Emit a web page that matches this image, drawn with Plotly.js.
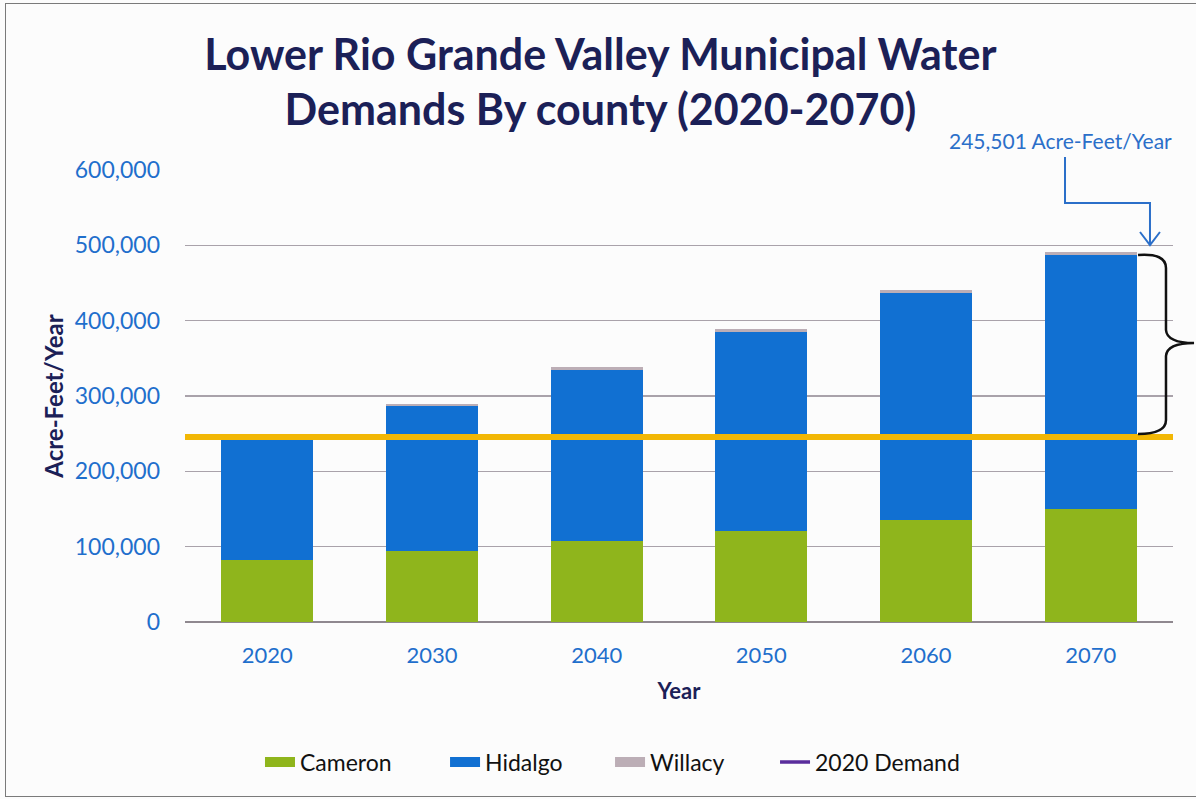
<!DOCTYPE html>
<html>
<head>
<meta charset="utf-8">
<script src="https://cdn.plot.ly/plotly-3.0.1.min.js"></script>
<style>
html,body{margin:0;padding:0;background:#fcfcfc;}
#wrap{position:absolute;left:0;top:0;width:1196px;height:799px;overflow:hidden;}
#frame{position:absolute;left:5px;top:3px;width:1300px;height:792px;border:1.5px solid #7a7a7a;pointer-events:none;}
#chart{position:absolute;left:0;top:0;width:1196px;height:799px;}
</style>
</head>
<body>
<div id="wrap"><div id="chart"></div><div id="frame"></div></div>
<script>
// ---- data ----
const years = ['2020', '2030', '2040', '2050', '2060', '2070'];
const cameron = [82000, 94000, 107000, 120500, 135500, 150500];
const hidalgo = [161000, 193000, 228000, 265000, 301000, 336500];
const willacy = [2500, 3000, 3200, 3500, 3800, 4000];
const demand2020 = [245500, 245500];
const increaseLabel = '245,501 Acre-Feet/Year';
const yTicks = [0, 100000, 200000, 300000, 400000, 500000, 600000];

// ---- layout geometry (pixels) ----
const W = 1196, H = 799;
const L = 185, R = 1173, T = 170, B = 622;
const pw = R - L, ph = B - T;
function px(x) { return ((x - L) / pw).toFixed(4); }
function py(y) { return ((B - y) / ph).toFixed(4); }

const blueTxt = '#1f6fcc';
const navy = '#1b2057';
const font = 'Lato, "Open Sans", sans-serif';
const colCam = '#8fb51c', colHid = '#1170d2', colWil = '#bcaeb6';

const traces = [
  {type: 'bar', name: 'Cameron', x: years, y: cameron, showlegend: false,
   marker: {color: colCam}, hoverinfo: 'y+name'},
  {type: 'bar', name: 'Hidalgo', x: years, y: hidalgo, showlegend: false,
   marker: {color: colHid}, hoverinfo: 'y+name'},
  {type: 'bar', name: 'Willacy', x: years, y: willacy, showlegend: false,
   marker: {color: colWil}, hoverinfo: 'y+name'},
  {type: 'scatter', mode: 'lines', name: '2020 Demand', x: [0, 1], y: demand2020,
   xaxis: 'x2', line: {color: '#f2b705', width: 6}, showlegend: false, hoverinfo: 'skip'},
  // legend entries (wide swatches as in the original)
  {type: 'scatter', mode: 'lines', name: 'Cameron', x: [null], y: [null], legend: 'legend', line: {color: colCam, width: 14}},
  {type: 'scatter', mode: 'lines', name: 'Hidalgo', x: [null], y: [null], legend: 'legend2', line: {color: colHid, width: 14}},
  {type: 'scatter', mode: 'lines', name: 'Willacy', x: [null], y: [null], legend: 'legend3', line: {color: colWil, width: 14}},
  {type: 'scatter', mode: 'lines', name: '2020 Demand', x: [null], y: [null], legend: 'legend4', line: {color: '#5a2d9c', width: 3.5}}
];

// callout arrow and brace (decorations)
const arrowPath = `M ${px(1065)},${py(157)} L ${px(1065)},${py(203)} L ${px(1150)},${py(203)} L ${px(1150)},${py(244)}`;
const headPath = `M ${px(1140)},${py(232)} L ${px(1150)},${py(245)} L ${px(1160)},${py(232)}`;
const bracePath = `M ${px(1138)},${py(255)} Q ${px(1166)},${py(253)} ${px(1166)},${py(268)} L ${px(1166)},${py(330)} Q ${px(1167)},${py(343)} ${px(1194)},${py(343)} ` +
                  `M ${px(1194)},${py(343)} Q ${px(1167)},${py(343)} ${px(1166)},${py(356)} L ${px(1166)},${py(420)} Q ${px(1166)},${py(434)} ${px(1138)},${py(434)}`;

function legendAt(textStart) {
  return {orientation: 'h', x: px(textStart - 45) * 1, xanchor: 'left', y: py(762) * 1, yanchor: 'middle',
          font: {family: font, size: 23, color: '#111'}, itemwidth: 30, bgcolor: 'rgba(0,0,0,0)'};
}

const layout = {
  width: W, height: H,
  paper_bgcolor: 'rgba(0,0,0,0)', plot_bgcolor: 'rgba(0,0,0,0)',
  margin: {l: L, r: W - R, t: T, b: H - B},
  barmode: 'stack', bargap: 0.44,
  font: {family: font},
  title: {
    text: 'Lower Rio Grande Valley Municipal Water<br>Demands By county (2020-2070)',
    font: {family: font, size: 43, color: navy, weight: 'bold'},
    x: 0.502, xanchor: 'center', y: 0.913, yanchor: 'middle'
  },
  xaxis: {
    type: 'category', range: [-0.5, 5.5],
    showgrid: false, showline: false, ticks: '',
    tickfont: {family: font, size: 22, color: blueTxt},
    ticklabelstandoff: 18,
    title: {text: 'Year', font: {family: font, size: 22, color: navy, weight: 'bold'}, standoff: 16}
  },
  xaxis2: {overlaying: 'x', range: [0, 1], visible: false},
  yaxis: {
    range: [0, 600000], tickvals: yTicks, tickformat: ',d',
    showgrid: true, gridcolor: '#a9a2aa', gridwidth: 1.3,
    zeroline: true, zerolinecolor: '#8f888f', zerolinewidth: 1.5,
    showline: false, ticks: '',
    tickfont: {family: font, size: 23, color: blueTxt},
    ticklabelstandoff: 24,
    title: {text: 'Acre-Feet/Year', font: {family: font, size: 24, color: navy, weight: 'bold'}, standoff: 4}
  },
  legend: legendAt(305),
  legend2: legendAt(490),
  legend3: legendAt(655),
  legend4: legendAt(820),
  showlegend: true,
  shapes: [
    {type: 'path', xref: 'paper', yref: 'paper', path: arrowPath, line: {color: '#2b6fc9', width: 2}},
    {type: 'path', xref: 'paper', yref: 'paper', path: headPath, line: {color: '#2b6fc9', width: 2}},
    {type: 'path', xref: 'paper', yref: 'paper', path: bracePath, line: {color: '#111', width: 2.5}}
  ],
  annotations: [
    {xref: 'paper', yref: 'paper', x: px(1061) * 1, y: py(141) * 1, xanchor: 'center', yanchor: 'middle',
     text: increaseLabel, showarrow: false, font: {family: font, size: 21, color: '#2b6fc9'}}
  ]
};

Plotly.newPlot('chart', traces, layout, {displayModeBar: false, staticPlot: true});
</script>
</body>
</html>
